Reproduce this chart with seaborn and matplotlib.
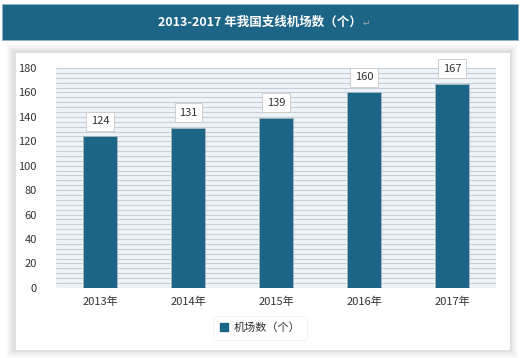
import matplotlib
matplotlib.use("Agg")
import matplotlib.pyplot as plt
import matplotlib.patches as mpatches
import seaborn as sns
import pandas as pd

years = ["2013年", "2014年", "2015年", "2016年", "2017年"]
airports = [124, 131, 139, 160, 167]
series_name = "机场数（个）"
title = "2013-2017 年我国支线机场数（个）"

df = pd.DataFrame({"year": years, "count": airports})

sns.set_theme(style="white")
plt.rcParams["font.family"] = ["Noto Sans CJK SC", "DejaVu Sans"]

bar_color = "#1b6587"

fig = plt.figure(figsize=(5.2, 3.58), dpi=100)
fig.patch.set_facecolor("white")

# title bar
fig.patches.append(mpatches.Rectangle((0.004, 0.888), 0.992, 0.101, transform=fig.transFigure,
                                      facecolor="#1c6586", edgecolor="#8fb3c6", lw=0.6, zorder=-2))
fig.text(0.5, 0.938, title, color="white", fontsize=9, fontweight="bold",
         ha="center", va="center")
fig.text(0.698, 0.936, "↵", color="#9aa5ad", fontsize=6.5, ha="left", va="center",
         family=["DejaVu Sans"])

# panel with soft shadow
for i, a in enumerate([0.02, 0.025, 0.035, 0.045]):
    d = (4 - i) * 0.004
    fig.patches.append(mpatches.Rectangle((0.028 - d, 0.022 - d * 1.4), 0.952 + 2 * d, 0.832 + 2.8 * d,
                                          transform=fig.transFigure, facecolor="#000000",
                                          alpha=a, edgecolor="none", zorder=-2))
fig.patches.append(mpatches.Rectangle((0.028, 0.022), 0.952, 0.832, transform=fig.transFigure,
                                      facecolor="white", edgecolor="#dddddd", lw=0.6, zorder=-1))

ax = fig.add_axes([0.108, 0.196, 0.846, 0.614])
ax.set_zorder(1)
ax.set_facecolor("#eef3f8")
sns.barplot(data=df, x="year", y="count", color=bar_color, width=0.39,
            saturation=1, ax=ax, zorder=3, edgecolor="#a9b6bf", linewidth=0.6)

ax.set_ylim(0, 180)
ax.set_yticks(range(0, 181, 20))
ax.set_yticks(range(0, 181, 4), minor=True)
ax.yaxis.grid(True, which="both", color="#c6cfd7", lw=0.8, zorder=0)
ax.set_axisbelow(True)
ax.set_xlabel("")
ax.set_ylabel("")
for s in ax.spines.values():
    s.set_visible(False)
ax.tick_params(axis="both", which="both", length=0, labelsize=8, colors="#333333")
ax.tick_params(axis="y", pad=14)
ax.tick_params(axis="x", pad=6)

for p, v in zip(ax.patches, airports):
    ax.annotate(str(v), (p.get_x() + p.get_width() / 2, v), xytext=(0, 11),
                textcoords="offset points", ha="center", va="center",
                fontsize=8, color="#333333", zorder=5,
                bbox=dict(boxstyle="square,pad=0.4", facecolor="white",
                          edgecolor="#c8c8c8", lw=0.6))

handle = mpatches.Patch(color=bar_color, label=series_name)
leg = fig.legend(handles=[handle], loc="center", bbox_to_anchor=(0.5, 0.085),
                 frameon=True, fontsize=8, handlelength=0.7, handleheight=0.7,
                 handletextpad=0.5, borderpad=0.6)
leg.get_frame().set_edgecolor("#eeeeee")
leg.get_frame().set_linewidth(0.6)
for t in leg.get_texts():
    t.set_color("#333333")

fig.savefig("out.png", dpi=100)
